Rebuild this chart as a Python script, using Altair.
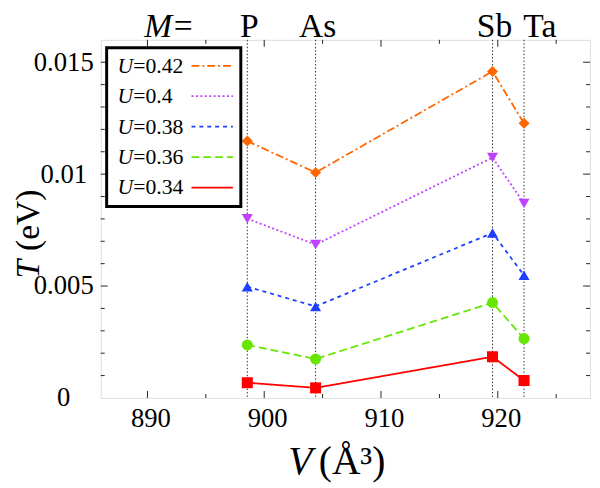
import altair as alt
import pandas as pd

# ---- data ----
compounds = ["P", "As", "Sb", "Ta"]
volumes = [898.55, 904.4, 919.55, 922.25]

u_labels = ["0.42", "0.4", "0.38", "0.36", "0.34"]
t_042 = [0.01148, 0.01007, 0.01459, 0.01227]
t_040 = [0.00801, 0.00685, 0.01074, 0.00869]
t_038 = [0.00497, 0.00409, 0.00737, 0.00548]
t_036 = [0.00237, 0.00174, 0.00426, 0.00265]
t_034 = [0.00068, 0.00045, 0.00184, 0.00078]
series_vals = [t_042, t_040, t_038, t_036, t_034]

x_major = [890, 900, 910, 920]
x_minor = [895, 905, 915, 925]
y_major = [0.005, 0.01, 0.015]
y_minor = [0.001, 0.002, 0.003, 0.004, 0.006, 0.007, 0.008, 0.009,
           0.011, 0.012, 0.013, 0.014]
y_labels = [0, 0.005, 0.01, 0.015]

colors = ["#FF6600", "#BF40FF", "#1F3FFF", "#66E600", "#FF0000"]
dashes = [[8, 3, 2, 3], [2, 2.5], [4, 4], [8, 4], [1, 0]]
shapes = ["diamond", "triangle-down", "triangle-up", "circle", "square"]

FONT = "Liberation Serif"
W, H = 496, 363

rows = []
for u, vals in zip(u_labels, series_vals):
    for c, v, t in zip(compounds, volumes, vals):
        rows.append({"U": u, "M": c, "V": v, "T": t})
df = pd.DataFrame(rows)
comp_df = pd.DataFrame({"name": compounds, "V": volumes})

xs = alt.Scale(domain=[886, 927.9], nice=False, zero=False)
ys = alt.Scale(domain=[0, 0.016], nice=False, zero=False)
cs = alt.Scale(domain=u_labels, range=colors)
ds = alt.Scale(domain=u_labels, range=dashes)
ss = alt.Scale(domain=u_labels, range=shapes)

x_axis = alt.Axis(values=x_major, tickSize=0, domain=False, grid=False, title=None,
                  labelFont=FONT, labelFontSize=27, labelColor="black",
                  labelPadding=8, labelOffset=3)
y_axis = alt.Axis(values=y_labels, tickSize=0, domain=False, grid=False, title=None,
                  format="~g", labelAlign="center", labelPadding=38,
                  labelBaseline="middle",
                  labelFont=FONT, labelFontSize=27, labelColor="black")

base = alt.Chart(df)

vlines = alt.Chart(comp_df).mark_rule(color="#333", strokeWidth=1, strokeDash=[1.5, 2]).encode(
    x=alt.X("V:Q", scale=xs, axis=x_axis))

lines = base.mark_line(strokeWidth=1.8).encode(
    x=alt.X("V:Q", scale=xs),
    y=alt.Y("T:Q", scale=ys, axis=y_axis),
    color=alt.Color("U:N", scale=cs, legend=None),
    strokeDash=alt.StrokeDash("U:N", scale=ds, legend=None),
    detail="U:N",
)
points = base.mark_point(filled=True, opacity=1, size=125).encode(
    x=alt.X("V:Q", scale=xs),
    y=alt.Y("T:Q", scale=ys),
    color=alt.Color("U:N", scale=cs, legend=None),
    shape=alt.Shape("U:N", scale=ss, legend=None),
)

# inward ticks
def xticks(vals, length):
    d = pd.DataFrame({"V": vals})
    bot = alt.Chart(d).mark_rule(color="#222", strokeWidth=1).encode(
        x=alt.X("V:Q", scale=xs), y=alt.value(H), y2=alt.value(H - length))
    top = alt.Chart(d).mark_rule(color="#222", strokeWidth=1).encode(
        x=alt.X("V:Q", scale=xs), y=alt.value(0), y2=alt.value(length))
    return [bot, top]

def yticks(vals, length):
    d = pd.DataFrame({"T": vals})
    left = alt.Chart(d).mark_rule(color="#222", strokeWidth=1).encode(
        y=alt.Y("T:Q", scale=ys), x=alt.value(0), x2=alt.value(length))
    right = alt.Chart(d).mark_rule(color="#222", strokeWidth=1).encode(
        y=alt.Y("T:Q", scale=ys), x=alt.value(W), x2=alt.value(W - length))
    return [left, right]

ticks = xticks(x_major, 7) + xticks(x_minor, 4) + yticks(y_major, 7) + yticks(y_minor, 4)

TOPY = -3
TOPF = 34
# top compound labels
top_main = alt.Chart(comp_df).transform_filter("datum.name != 'Ta'").mark_text(
    font=FONT, fontSize=TOPF, baseline="alphabetic", align="center", dx=2, color="black"
).encode(x=alt.X("V:Q", scale=xs), y=alt.value(TOPY), text="name:N")
top_ta = alt.Chart(comp_df).transform_filter("datum.name == 'Ta'").mark_text(
    font=FONT, fontSize=TOPF, baseline="alphabetic", align="center", dx=16, color="black"
).encode(x=alt.X("V:Q", scale=xs), y=alt.value(TOPY), text="name:N")
one = pd.DataFrame({"a": [0]})
m_lab = alt.Chart(one).mark_text(
    font=FONT, fontSize=TOPF, fontStyle="italic", baseline="alphabetic", align="left", color="black"
).encode(x=alt.value(44), y=alt.value(TOPY), text=alt.value("M"))
eq_lab = alt.Chart(one).mark_text(
    font=FONT, fontSize=TOPF, baseline="alphabetic", align="left", color="black"
).encode(x=alt.value(74), y=alt.value(TOPY), text=alt.value("="))

# axis titles
xt1 = alt.Chart(one).mark_text(font=FONT, fontSize=40, fontStyle="italic", align="left",
                               baseline="alphabetic", color="black").encode(
    x=alt.value(190), y=alt.value(440), text=alt.value("V"))
xt2 = alt.Chart(one).mark_text(font=FONT, fontSize=40, align="left",
                               baseline="alphabetic", color="black").encode(
    x=alt.value(221), y=alt.value(440), text=alt.value("(Å³)"))
yt1 = alt.Chart(one).mark_text(font=FONT, fontSize=34, fontStyle="italic", align="left",
                               baseline="alphabetic", angle=270, color="black").encode(
    x=alt.value(-63), y=alt.value(242), text=alt.value("T"))
yt2 = alt.Chart(one).mark_text(font=FONT, fontSize=34, align="left",
                               baseline="alphabetic", angle=270, color="black").encode(
    x=alt.value(-63), y=alt.value(214), text=alt.value("(eV)"))

# custom legend
legend_layers = [alt.Chart(one).mark_rect(fill="white", stroke="black", strokeWidth=3).encode(
    x=alt.value(6), x2=alt.value(142), y=alt.value(8), y2=alt.value(169))]
for i, (u, col, dsh) in enumerate(zip(u_labels, colors, dashes)):
    ly = 26.3 + i * 30.85
    legend_layers.append(alt.Chart(one).mark_text(
        font=FONT, fontSize=22, fontStyle="italic", align="left", baseline="middle", color="black"
    ).encode(x=alt.value(17), y=alt.value(ly), text=alt.value("U")))
    legend_layers.append(alt.Chart(one).mark_text(
        font=FONT, fontSize=22, align="left", baseline="middle", color="black"
    ).encode(x=alt.value(33), y=alt.value(ly), text=alt.value("=" + u)))
    legend_layers.append(alt.Chart(one).mark_rule(
        color=col, strokeDash=dsh, strokeWidth=1.8
    ).encode(x=alt.value(92), x2=alt.value(134), y=alt.value(ly)))

chart = alt.layer(
    vlines, *ticks, lines, points, top_main, top_ta, m_lab, eq_lab,
    xt1, xt2, yt1, yt2, *legend_layers
).properties(
    width=W, height=H,
    autosize=alt.AutoSizeParams(type="none"),
    padding={"left": 94, "top": 29, "right": 2, "bottom": 88},
).configure_view(stroke="#222", strokeWidth=1.5).configure(background="white", font=FONT)

chart.save("out.html", embed_options={"renderer": "svg", "actions": False})
